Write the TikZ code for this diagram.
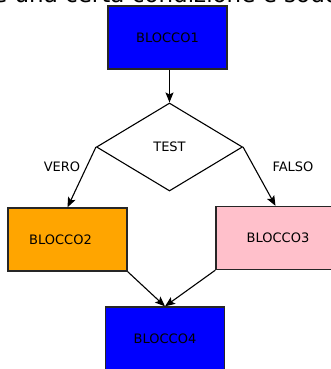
\documentclass[tikz,border=0pt]{standalone}
\usepackage{fontspec}
\setmainfont{DejaVu Sans}
\usetikzlibrary{shapes.geometric,arrows.meta}

\definecolor{arancio}{RGB}{255,165,0}
\definecolor{rosa}{RGB}{255,192,203}

\tikzset{
    blocco/.style={draw=black!85, line width=1.3pt, minimum width=119pt,
        minimum height=63pt, inner sep=0pt, font=\fontsize{13}{15}\selectfont},
    scelta/.style={diamond, draw, line width=1.1pt, minimum width=146pt,
        minimum height=88pt, inner sep=0pt, font=\fontsize{13}{15}\selectfont},
    freccia/.style={-{Stealth[length=10pt,width=8pt,inset=2pt]}, line width=1.1pt},
    etichetta/.style={font=\fontsize{13}{15}\selectfont}
}

\begin{document}
\begin{tikzpicture}[x=1pt, y=-1pt]
    \useasboundingbox (0,0) rectangle (331,369);
    \clip (0,0) rectangle (331,369);

    % Line of text above, cut by the border
    \node[anchor=base west, inner sep=0pt, font=\fontsize{23}{27}\selectfont] (titolo) at (-19,2.5) {se una certa condizione è soddisfatta};

    % Blocks
    \node[blocco, fill=blue] (b1) at (167.5,37.5) {BLOCCO1};
    \node[scelta] (test) at (169.5,147) {TEST};
    \node[blocco, fill=arancio] (b2) at (67.5,239.5) {\hspace*{-14pt}BLOCCO2};
    \node[blocco, fill=rosa] (b3) at (275.5,238) {\hspace*{5pt}BLOCCO3};
    \node[blocco, fill=blue] (b4) at (165,338.5) {BLOCCO4};

    % Labels
    \node[etichetta] (vero) at (62,167) {VERO};
    \node[etichetta] (falso) at (293,167) {FALSO};

    % Arrows
    \draw[freccia] (test.north |- b1.south) -- (test.north);
    \draw[freccia] (test.west) -- (b2.north);
    \draw[freccia] (test.east) -- (b3.north);
    \draw[freccia] (b2.south east) -- (b4.north);
    \draw[freccia] (b3.south west) -- (b4.north);
\end{tikzpicture}
\end{document}
